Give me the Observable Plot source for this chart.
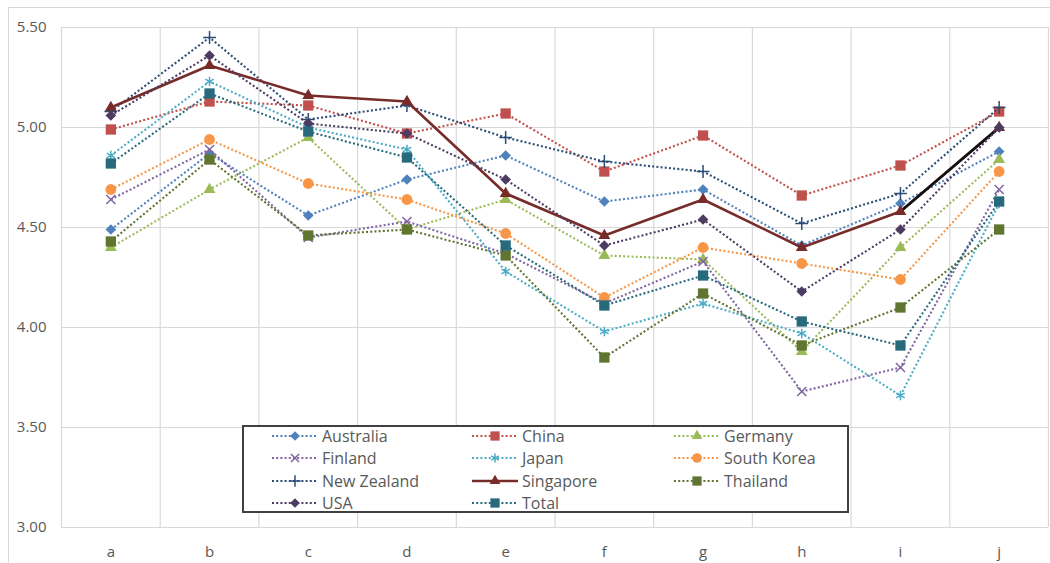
<!DOCTYPE html>
<html><head><meta charset="utf-8">
<script src="https://cdn.jsdelivr.net/npm/d3@7"></script>
<script src="https://cdn.jsdelivr.net/npm/@observablehq/plot@0.6"></script>
<style>
body{margin:0;background:#fff;font-family:"Open Sans",sans-serif;}
#wrap{position:relative;width:1050px;height:563px;overflow:hidden;}
#border{position:absolute;left:8px;top:7px;width:1045px;height:600px;border:1px solid #d9d9d9;}
#chart{position:absolute;left:0;top:0;}
#legend{position:absolute;left:0;top:0;}
</style></head><body>
<div id="wrap"><div id="border"></div><div id="chart"></div><svg id="legend" width="1050" height="563"></svg></div>
<script>
const categories = ["a","b","c","d","e","f","g","h","i","j"];
const yTicks = [3.0, 3.5, 4.0, 4.5, 5.0, 5.5];
const seriesNames = ["Australia","China","Germany","Finland","Japan","South Korea","New Zealand","Singapore","Thailand","USA","Total"];
const australia  = [4.49, 4.87, 4.56, 4.74, 4.86, 4.63, 4.69, 4.41, 4.62, 4.88];
const china      = [4.99, 5.13, 5.11, 4.97, 5.07, 4.78, 4.96, 4.66, 4.81, 5.08];
const germany    = [4.40, 4.69, 4.95, 4.49, 4.64, 4.36, 4.34, 3.88, 4.40, 4.84];
const finland    = [4.64, 4.89, 4.45, 4.53, 4.37, 4.12, 4.33, 3.68, 3.80, 4.69];
const japan      = [4.86, 5.23, 5.00, 4.89, 4.28, 3.98, 4.12, 3.97, 3.66, 4.62];
const southKorea = [4.69, 4.94, 4.72, 4.64, 4.47, 4.15, 4.40, 4.32, 4.24, 4.78];
const newZealand = [5.08, 5.45, 5.04, 5.11, 4.95, 4.83, 4.78, 4.52, 4.67, 5.10];
const singapore  = [5.10, 5.31, 5.16, 5.13, 4.67, 4.46, 4.64, 4.40, 4.58, 5.00];
const thailand   = [4.43, 4.84, 4.46, 4.49, 4.36, 3.85, 4.17, 3.91, 4.10, 4.49];
const usa        = [5.06, 5.36, 5.02, 4.97, 4.74, 4.41, 4.54, 4.18, 4.49, 5.00];
const total      = [4.82, 5.17, 4.98, 4.85, 4.41, 4.11, 4.26, 4.03, 3.91, 4.63];
const seriesValues = [australia, china, germany, finland, japan, southKorea, newZealand, singapore, thailand, usa, total];
const colors = ["#4F81BD","#C0504D","#9BBB59","#8064A2","#4BACC6","#F79646","#2C4D75","#772C2A","#5F7530","#4D3B62","#276A7C"];
const symbols = ["diamond2","square","triangle","times","asterisk","circle","plus","triangle","square","diamond2","square"];
const strokeSym = new Set(["times","asterisk","plus"]);
const sizes = {diamond2:4.8, square:5.8, triangle:4.4, times:4.2, asterisk:4.6, circle:5.4, plus:4.2};

const marks = [];
marks.push(Plot.ruleY(yTicks, {x1: -0.5, x2: categories.length - 0.5, stroke: "#d9d9d9", strokeWidth: 1.2}));
marks.push(Plot.ruleX(d3.range(categories.length + 1).map(i => i - 0.5), {y1: yTicks[0], y2: yTicks[yTicks.length - 1], stroke: "#d9d9d9", strokeWidth: 1.2}));

seriesNames.forEach((name, s) => {
  const rows = seriesValues[s].map((v, i) => ({i, v}));
  const solid = name === "Singapore";
  marks.push(Plot.line(rows, {
    x: "i", y: "v", stroke: colors[s],
    strokeWidth: solid ? 2.6 : 2.1,
    strokeDasharray: solid ? null : "2,2.2",
    strokeLinecap: "butt"
  }));
  if (solid) {
    marks.push(Plot.line(rows.slice(rows.length - 2), {x: "i", y: "v", stroke: "#111", strokeWidth: 2.6}));
  }
  const sym = symbols[s];
  const isStroke = strokeSym.has(sym);
  marks.push(Plot.dot(rows, {
    x: "i", y: "v", symbol: () => sym, r: sizes[sym],
    fill: isStroke ? "none" : colors[s],
    stroke: isStroke ? colors[s] : "none",
    strokeWidth: isStroke ? 1.5 : 0
  }));
});

const chart = Plot.plot({
  width: 1050, height: 563,
  marginLeft: 61, marginRight: 2, marginTop: 27, marginBottom: 36,
  style: {fontFamily: "Open Sans", fontSize: "15px", color: "#595959", background: "transparent"},
  x: {type: "linear", domain: [-0.5, categories.length - 0.5], ticks: d3.range(categories.length),
      tickFormat: i => categories[i], tickSize: 0, tickPadding: 19, label: null},
  y: {domain: [yTicks[0], yTicks[yTicks.length - 1]], ticks: yTicks, tickFormat: d3.format(".2f"),
      tickSize: 0, tickPadding: 15, label: null},
  symbol: {type: "identity"},
  marks
});
document.getElementById("chart").appendChild(chart);

// legend
const lg = d3.select("#legend");
lg.append("rect").attr("x", 243).attr("y", 426).attr("width", 605).attr("height", 86)
  .attr("fill", "#fff").attr("stroke", "#404040").attr("stroke-width", 2);
const colX = [295, 495, 697];
const rowY = [436, 458, 481, 503];
const d3sym = {diamond2: d3.symbolDiamond2, square: d3.symbolSquare, triangle: d3.symbolTriangle,
  times: d3.symbolTimes, asterisk: d3.symbolAsterisk, circle: d3.symbolCircle, plus: d3.symbolPlus};
seriesNames.forEach((name, s) => {
  const cx = colX[s % 3], cy = rowY[Math.floor(s / 3)];
  const solid = name === "Singapore";
  const g = lg.append("g");
  g.append("line").attr("x1", cx - 23).attr("x2", cx + 23).attr("y1", cy).attr("y2", cy)
    .attr("stroke", colors[s]).attr("stroke-width", solid ? 2.6 : 2.1)
    .attr("stroke-dasharray", solid ? null : "2,2.2");
  const sym = symbols[s];
  const isStroke = strokeSym.has(sym);
  const r = sizes[sym] * 0.9;
  g.append("path").attr("transform", `translate(${cx},${cy})`)
    .attr("d", d3.symbol(d3sym[sym], r * r * Math.PI)())
    .attr("fill", isStroke ? "none" : colors[s])
    .attr("stroke", isStroke ? colors[s] : "none").attr("stroke-width", 1.5);
  g.append("text").attr("x", cx + 27).attr("y", cy).attr("dy", "0.36em")
    .attr("font-family", "Open Sans").attr("font-size", 16).attr("fill", "#595959").text(name);
});
</script>
</body></html>
